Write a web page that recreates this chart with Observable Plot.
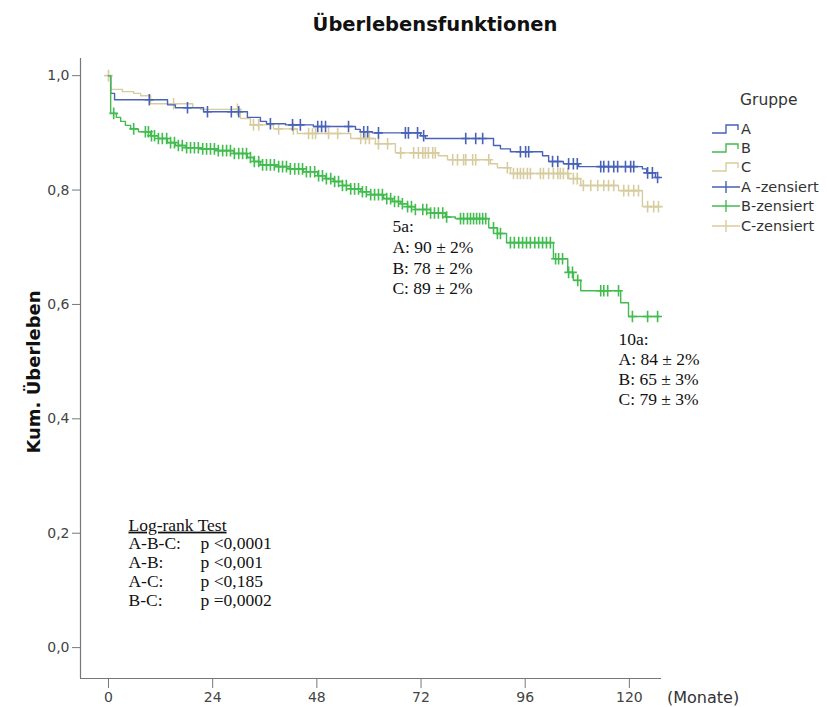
<!DOCTYPE html>
<html><head><meta charset="utf-8">
<script src="https://cdn.jsdelivr.net/npm/d3@7"></script>
<script src="https://cdn.jsdelivr.net/npm/@observablehq/plot@0.6"></script>
<style>
body{margin:0;background:#fff;}
#wrap{position:relative;width:827px;height:707px;overflow:hidden;font-family:"DejaVu Sans",sans-serif;background:#fff;}
#chart{position:absolute;left:0;top:0;}
#title{position:absolute;left:0;width:870px;top:13px;text-align:center;font-weight:bold;font-size:19.5px;color:#111;white-space:nowrap;}
#ylab{position:absolute;left:33px;top:372px;transform:translate(-50%,-50%) rotate(-90deg);font-weight:bold;font-size:18px;color:#111;white-space:nowrap;}
#xunit{position:absolute;left:667px;top:688px;font-size:16px;color:#333;white-space:nowrap;}
#legend{position:absolute;left:0;top:0;}
</style></head>
<body>
<div id="wrap">
  <div id="chart"></div>
  <div id="title">Überlebensfunktionen</div>
  <div id="ylab">Kum. Überleben</div>
  <div id="xunit">(Monate)</div>
  <svg id="legend" width="827" height="260"></svg>
</div>
<script>
// ---------- data ----------
const groups = ["A", "B", "C"];
const xTicks = [0, 24, 48, 72, 96, 120];
const yTicks = [0, 0.2, 0.4, 0.6, 0.8, 1.0];
const endTime = 127;

// Kaplan-Meier steps: time (months) and survival from that time on
const timeA = [0, 0.5, 1.4, 13.6, 15.4, 21.9, 32.0, 35.0, 36.4, 40.8, 47.2, 56.9, 58.0, 60.8, 71.9, 73.0, 88.7, 90.3, 92.6, 100.0, 101.4, 104.8, 108.3, 123.0, 124.0, 126.0];
const survA = [1.000, 0.969, 0.958, 0.949, 0.944, 0.937, 0.927, 0.920, 0.916, 0.914, 0.911, 0.906, 0.902, 0.900, 0.895, 0.890, 0.878, 0.872, 0.867, 0.860, 0.850, 0.846, 0.841, 0.837, 0.830, 0.822];
const censA = [9.4, 18.2, 22.8, 28.3, 30.0, 37.3, 42.4, 44.2, 48.2, 49.1, 50.0, 55.3, 58.8, 59.7, 62.2, 68.4, 69.1, 71.2, 72.6, 82.3, 84.6, 86.2, 94.9, 96.1, 96.8, 102.3, 103.5, 106.0, 107.1, 108.0, 113.4, 114.1, 115.2, 116.4, 117.3, 119.1, 120.3, 121.0, 124.2, 125.3, 126.5];

const timeB = [0, 0.5, 1.8, 2.8, 3.9, 5.1, 6.9, 9.7, 11.5, 13.6, 15.4, 17.7, 21.2, 25.1, 28.8, 32.0, 33.4, 35.0, 38.5, 41.9, 44.9, 48.2, 50.0, 51.8, 53.9, 55.8, 58.1, 60.4, 63.4, 65.4, 67.3, 68.9, 70.7, 74.2, 77.6, 79.9, 87.6, 89.6, 91.7, 102.5, 105.8, 107.1, 108.8, 118.0, 119.8];
const survB = [1.000, 0.934, 0.927, 0.920, 0.913, 0.907, 0.902, 0.895, 0.890, 0.883, 0.878, 0.874, 0.872, 0.869, 0.864, 0.857, 0.850, 0.844, 0.841, 0.837, 0.832, 0.825, 0.820, 0.815, 0.808, 0.802, 0.797, 0.792, 0.785, 0.780, 0.776, 0.771, 0.766, 0.760, 0.753, 0.750, 0.734, 0.724, 0.708, 0.680, 0.656, 0.642, 0.624, 0.603, 0.579];
const censB = [1.2, 5.8, 8.5, 9.2, 9.9, 10.6, 11.5, 12.4, 13.4, 14.3, 15.2, 16.1, 17.0, 18.0, 18.9, 19.8, 20.7, 21.7, 22.6, 23.5, 24.4, 25.3, 26.3, 27.2, 28.1, 29.0, 30.0, 30.9, 31.8, 32.7, 33.6, 34.6, 35.5, 36.4, 37.3, 38.2, 39.2, 40.1, 41.0, 41.9, 42.9, 43.8, 44.7, 45.6, 46.5, 47.5, 48.4, 49.3, 50.2, 51.2, 52.1, 53.0, 53.9, 54.8, 55.8, 56.7, 57.6, 58.5, 59.4, 60.4, 61.3, 62.2, 63.1, 64.1, 65.0, 65.9, 66.8, 67.7, 68.9, 69.8, 70.7, 72.4, 73.3, 74.2, 75.1, 76.0, 77.0, 77.9, 81.1, 81.8, 82.7, 83.4, 84.1, 84.8, 85.5, 86.2, 86.9, 88.7, 89.6, 90.3, 92.6, 93.5, 94.5, 95.4, 96.3, 97.2, 98.2, 99.1, 100.0, 100.9, 101.8, 103.0, 103.7, 104.6, 106.0, 106.9, 108.1, 113.4, 114.1, 115.0, 117.5, 120.7, 124.2, 126.5];

const timeC = [0, 0.5, 3.2, 5.8, 7.4, 9.7, 19.4, 21.2, 30.4, 32.7, 38.0, 43.5, 55.8, 61.5, 66.1, 76.0, 78.1, 88.0, 89.6, 92.6, 106.0, 108.8, 117.5, 123.0];
const survC = [1.000, 0.976, 0.972, 0.969, 0.965, 0.951, 0.944, 0.941, 0.925, 0.914, 0.907, 0.899, 0.890, 0.881, 0.865, 0.860, 0.853, 0.846, 0.839, 0.829, 0.820, 0.808, 0.799, 0.771];
const censC = [0, 15.0, 29.7, 33.4, 34.6, 39.2, 42.6, 46.1, 47.0, 47.7, 50.7, 52.8, 58.1, 59.2, 60.1, 62.2, 64.3, 67.3, 70.3, 71.4, 72.4, 73.0, 73.7, 74.7, 75.3, 79.3, 80.4, 81.8, 82.3, 83.9, 84.6, 87.6, 91.9, 93.3, 94.2, 94.9, 95.6, 96.5, 97.2, 99.5, 100.2, 101.4, 102.5, 103.5, 104.1, 104.8, 105.8, 107.1, 108.0, 109.4, 111.1, 112.7, 114.1, 115.2, 116.4, 118.7, 119.8, 121.0, 122.1, 124.2, 125.6, 126.7];

const legendLabels = ["A", "B", "C", "A -zensiert", "B-zensiert", "C-zensiert"];
const notes5a = ["5a:", "A: 90 ± 2%", "B: 78 ± 2%", "C: 89 ± 2%"];
const notes10a = ["10a:", "A: 84 ± 2%", "B: 65 ± 3%", "C: 79 ± 3%"];
const logrankTitle = "Log-rank Test";
const logrankPairs = ["A-B-C:", "A-B:", "A-C:", "B-C:"];
const logrankP = ["p <0,0001", "p <0,001", "p <0,185", "p =0,0002"];

// ---------- styles ----------
const colors = {A: "#4762b6", B: "#42bb4f", C: "#d8cc9e"};
const xDomain = [-6.45, 127.4];
const yDomain = [-0.054, 1.03];

const series = {A: [timeA, survA, censA], B: [timeB, survB, censB], C: [timeC, survC, censC]};
const stepData = [], censData = [];
for (const g of groups) {
  const [t, s, c] = series[g];
  t.forEach((ti, i) => stepData.push({g, t: ti, s: s[i]}));
  stepData.push({g, t: endTime, s: s[s.length - 1]});
  for (const ci of c) {
    let k = 0;
    for (let i = 0; i < t.length; i++) if (t[i] <= ci) k = i;
    censData.push({g, t: ci, s: s[k]});
  }
}

const censorSymbol = {
  draw(ctx, size) {
    const r = Math.sqrt(size / Math.PI);
    ctx.moveTo(0, -r); ctx.lineTo(0, r);
    ctx.moveTo(-r * 0.75, 0); ctx.lineTo(r * 0.75, 0);
  }
};

const serif = "Liberation Serif, Times New Roman, serif";
const fmtY = d => d.toFixed(1).replace(".", ",");

const marks = [
  Plot.ruleX([xDomain[0]], {stroke: "#777", strokeWidth: 1.2}),
  Plot.ruleY([yDomain[0]], {stroke: "#777", strokeWidth: 1.2}),
  Plot.axisY({ticks: yTicks, tickFormat: fmtY, tickSize: 8, tickPadding: 3, label: null, stroke: "#777", color: "#444", fontSize: 14}),
  Plot.axisX({ticks: xTicks, tickSize: 10, tickPadding: 4, label: null, stroke: "#777", color: "#444", fontSize: 14}),
];
for (const g of ["C", "A", "B"]) {
  marks.push(Plot.line(stepData.filter(d => d.g === g), {x: "t", y: "s", curve: "step-after", stroke: colors[g], strokeWidth: 1.4}));
  marks.push(Plot.dot(censData.filter(d => d.g === g), {x: "t", y: "s", symbol: censorSymbol, r: 5.8, stroke: colors[g], fill: "none", strokeWidth: 1.6}));
}
marks.push(
  Plot.text([notes5a.join("\n")], {x: 65.4, y: 0.6836, text: d => d, textAnchor: "start", lineAnchor: "middle", lineHeight: 1.18, fontFamily: serif, fontSize: 17.5, fill: "#111"}),
  Plot.text([notes10a.join("\n")], {x: 117.5, y: 0.4878, text: d => d, textAnchor: "start", lineAnchor: "middle", lineHeight: 1.15, fontFamily: serif, fontSize: 17.5, fill: "#111"}),
  Plot.text([[logrankTitle, ...logrankPairs].join("\n")], {x: 4.6, y: 0.1495, text: d => d, textAnchor: "start", lineAnchor: "middle", lineHeight: 1.07, fontFamily: serif, fontSize: 17.5, fill: "#111"}),
  Plot.text([[" ", ...logrankP].join("\n")], {x: 21.2, y: 0.1495, text: d => d, textAnchor: "start", lineAnchor: "middle", lineHeight: 1.07, fontFamily: serif, fontSize: 17.5, fill: "#111"})
);

const chart = Plot.plot({
  width: 827, height: 707,
  marginLeft: 80, marginRight: 166, marginTop: 58, marginBottom: 29,
  x: {domain: xDomain, axis: null},
  y: {domain: yDomain, axis: null},
  style: {fontFamily: "DejaVu Sans, sans-serif", fontSize: "14px", background: "transparent"},
  marks
});
document.getElementById("chart").appendChild(chart);
d3.select(chart).selectAll("tspan").filter(function () { return this.textContent === logrankTitle; }).attr("text-decoration", "underline");

// ---------- legend ----------
const leg = d3.select("#legend");
leg.append("text").attr("x", 740).attr("y", 100).attr("dy", "0.35em").attr("font-size", 15.5).attr("fill", "#333").text("Gruppe");
const rowY = [129, 148, 167, 187, 206, 226];
legendLabels.forEach((lab, i) => {
  const g = groups[i % 3];
  const y = rowY[i];
  if (i < 3) {
    leg.append("path").attr("d", `M712,${y + 4}H726V${y - 4}H738V${y + 1}`).attr("fill", "none").attr("stroke", colors[g]).attr("stroke-width", 1.4);
  } else {
    leg.append("path").attr("d", `M712,${y}H740M726,${y - 6}V${y + 6}`).attr("fill", "none").attr("stroke", colors[g]).attr("stroke-width", 1.4);
  }
  leg.append("text").attr("x", 741).attr("y", y).attr("dy", "0.35em").attr("font-size", 14.5).attr("fill", "#333").attr("font-family", "DejaVu Sans, sans-serif").text(lab);
});
</script>
</body></html>
